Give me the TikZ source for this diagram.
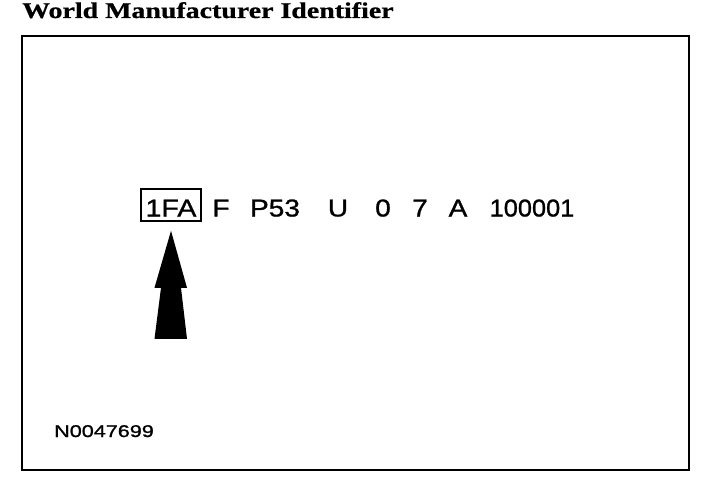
\documentclass[tikz,border=0pt]{standalone}
\usepackage{fontspec}
\setmainfont{Liberation Serif}
\setsansfont{Liberation Sans}
\newfontface\titlefont{Liberation Serif Bold}[FakeBold=0.6]
\newfontface\codefont{Liberation Sans}[FakeBold=1.0]
\newcommand{\wide}[2][1.15]{\scalebox{#1}[1]{#2}}

\begin{document}
\begin{tikzpicture}[%
    x=1pt, y=-1pt,              % Work in pixels of the page, y going down
    ]
% -------------------------------------------------
% Styles for the frame, the code characters and the pointer
\tikzset{
  frame/.style={draw, line width=1.8pt},
  caption/.style={font={\titlefont\fontsize{22.5}{26}\selectfont}, inner sep=0pt, anchor=base west},
  code/.style={font={\codefont\fontsize{24.4}{28}\selectfont}, inner sep=0pt, anchor=base},
  wmibox/.style={code, draw, line width=1.6pt, minimum width=60pt,
    text height=23.5pt, text depth=0.5pt, inner ysep=4pt},
  ref/.style={font={\codefont\fontsize{17}{20}\selectfont}, inner sep=0pt, anchor=base west},
  pointer/.style={fill=black}
}
\useasboundingbox (0,0) rectangle (704,484);
% -------------------------------------------------
% Heading and frame
\node [caption] (title) at (22,18) {\wide[1.24]{World Manufacturer Identifier}};
\draw [frame] (22,36) rectangle (689,470);

% The code, one group at a time
\node [wmibox] (wmi) at (171,216.5) {\wide[1.17]{1FA}};
\node [code] (c1) at (221,216.5) {\wide{F}};
\node [code] (c2) at (275,216.5) {\wide{P53}};
\node [code] (c3) at (338,216.5) {\wide{U}};
\node [code] (c4) at (383,216.5) {\wide{0}};
\node [code] (c5) at (420,216.5) {\wide{7}};
\node [code] (c6) at (458,216.5) {\wide{A}};
\node [code] (c7) at (532,216.5) {\wide[1.04]{100001}};

% Pointer under the boxed group
\coordinate (tip) at ([yshift=-9pt]wmi.south);
\fill [pointer] (tip) -- ++(16,57) -- ++(-6,0) -- ++(6,51)
  -- ++(-32.5,0) -- ++(6.5,-51) -- ++(-6.5,0) -- cycle;

% Figure number
\node [ref] (fig) at (54,437) {\wide[1.27]{N0047699}};
% -------------------------------------------------
\end{tikzpicture}
\end{document}
